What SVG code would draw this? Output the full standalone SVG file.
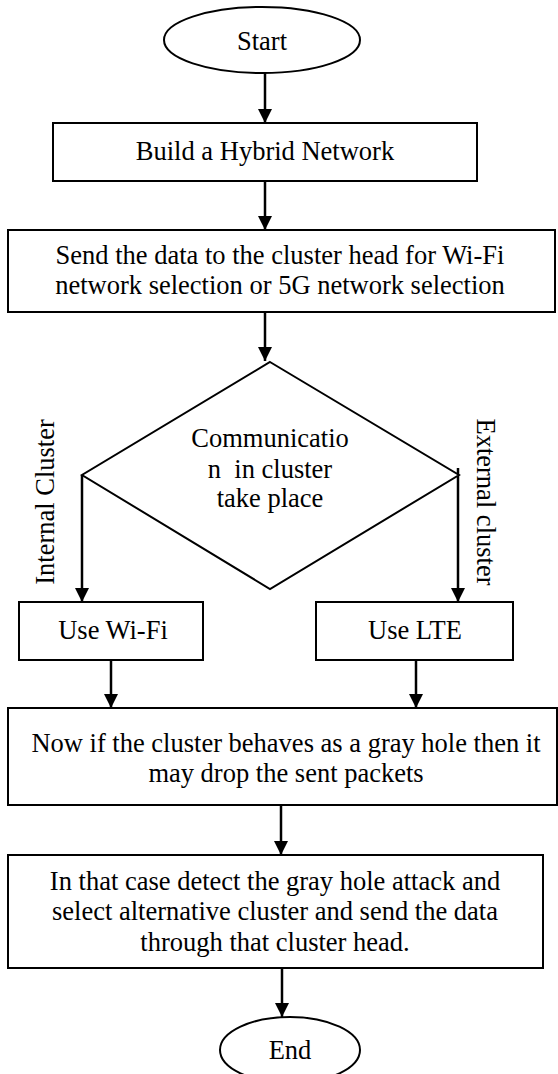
<svg xmlns="http://www.w3.org/2000/svg" width="558" height="1074" viewBox="0 0 558 1074">
<style>
.shape{fill:#fff;stroke:#000;stroke-width:2}
.t{font-family:"Liberation Serif","Times New Roman",serif;font-size:26.5px;fill:#000;text-anchor:middle}
.c{stroke:#000;stroke-width:2.5;fill:none;marker-end:url(#ah)}
</style>
<defs>
<marker id="ah" markerUnits="userSpaceOnUse" markerWidth="14" markerHeight="16" refX="14" refY="7" orient="auto">
<path d="M0,0 L14,7 L0,14 Z" fill="#000"/>
</marker>
</defs>
<rect width="558" height="1074" fill="#fff"/>
<g id="connectors">
<line class="c" x1="265" y1="73" x2="265" y2="123"/>
<line class="c" x1="265" y1="181" x2="265" y2="230"/>
<line class="c" x1="265" y1="312" x2="265" y2="361"/>
<line class="c" x1="82" y1="475" x2="82" y2="602"/>
<line class="c" x1="458" y1="468" x2="458" y2="602"/>
<line class="c" x1="111" y1="660" x2="111" y2="708"/>
<line class="c" x1="416" y1="660" x2="416" y2="708"/>
<line class="c" x1="281" y1="805" x2="281" y2="855"/>
<line class="c" x1="282" y1="968" x2="282" y2="1017"/>
</g>
<g id="start">
<ellipse class="shape" cx="262" cy="40" rx="98" ry="33"/>
<text class="t" x="262" y="50">Start</text>
</g>
<g id="build">
<rect class="shape" x="53" y="123" width="424" height="58"/>
<text class="t" x="265" y="160">Build a Hybrid Network</text>
</g>
<g id="send">
<rect class="shape" x="8" y="230" width="547" height="82"/>
<text class="t" x="280" y="264">Send the data to the cluster head for Wi-Fi</text>
<text class="t" x="280" y="294">network selection or 5G network selection</text>
</g>
<g id="decision">
<polygon class="shape" points="270,362 459,475 270,589 82,475"/>
<text class="t" x="270" y="447">Communicatio</text>
<text class="t" x="270" y="478" xml:space="preserve">n  in cluster</text>
<text class="t" x="270" y="507">take place</text>
</g>
<g id="label-internal">
<text class="t" x="54" y="502" transform="rotate(-90 54 502)">Internal Cluster</text>
</g>
<g id="label-external">
<text class="t" x="477" y="502" transform="rotate(90 477 502)">External cluster</text>
</g>
<g id="wifi">
<rect class="shape" x="19" y="602" width="184" height="58"/>
<text class="t" x="113" y="639">Use Wi-Fi</text>
</g>
<g id="lte">
<rect class="shape" x="316" y="602" width="197" height="58"/>
<text class="t" x="415" y="639">Use LTE</text>
</g>
<g id="grayhole">
<rect class="shape" x="8" y="708" width="549" height="97"/>
<text class="t" x="286" y="752">Now if the cluster behaves as a gray hole then it</text>
<text class="t" x="286" y="782">may drop the sent packets</text>
</g>
<g id="detect">
<rect class="shape" x="8" y="855" width="535" height="113"/>
<text class="t" x="275" y="890">In that case detect the gray hole attack and</text>
<text class="t" x="275" y="920">select alternative cluster and send the data</text>
<text class="t" x="275" y="951">through that cluster head.</text>
</g>
<g id="end">
<ellipse class="shape" cx="290" cy="1050" rx="70" ry="33"/>
<text class="t" x="290" y="1059">End</text>
</g>
</svg>
